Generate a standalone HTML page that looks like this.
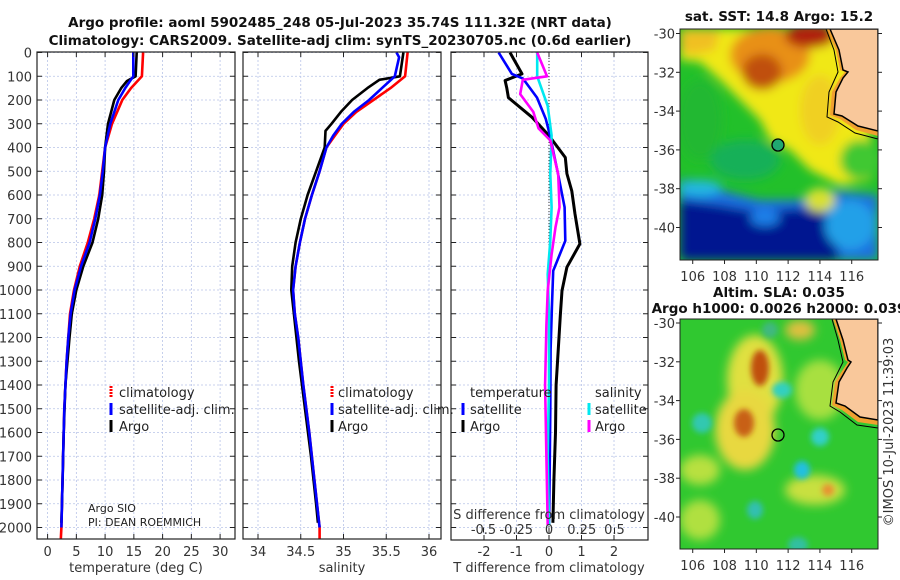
<!DOCTYPE html>
<html><head><meta charset="utf-8">
<style>
html,body{margin:0;padding:0;background:#fff;}
svg{display:block;font-family:"DejaVu Sans","Liberation Sans",sans-serif;}
.tk{font-size:13px;fill:#333;}
.lab{font-size:13px;fill:#333;}
.ttl{font-size:13.5px;font-weight:bold;fill:#111;}
.lg{font-size:13px;fill:#222;}
</style></head><body>
<svg id="fig" width="900" height="580" viewBox="0 0 900 580">
<defs>
<filter id="bl" x="-20%" y="-20%" width="140%" height="140%"><feGaussianBlur stdDeviation="5"/></filter>
<filter id="bl2" x="-20%" y="-20%" width="140%" height="140%"><feGaussianBlur stdDeviation="3"/></filter>
<clipPath id="cm1"><rect x="680" y="29" width="198" height="231"/></clipPath>
<clipPath id="cm2"><rect x="680" y="319" width="198" height="230"/></clipPath>
<clipPath id="cp1"><rect x="37" y="52" width="198" height="487"/></clipPath>
<clipPath id="cp2"><rect x="243" y="52" width="198" height="487"/></clipPath>
<clipPath id="cp3"><rect x="451" y="52" width="197" height="488"/></clipPath>
</defs>
<text class="ttl" x="340" y="27" text-anchor="middle">Argo profile: aoml 5902485_248 05-Jul-2023 35.74S 111.32E (NRT data)</text>
<text class="ttl" x="340" y="45" text-anchor="middle">Climatology: CARS2009. Satellite-adj clim: synTS_20230705.nc (0.6d earlier)</text>

<g id="grids"></g>
<g id="series"></g>
<g id="axes"></g>

<g>
<line x1="111" y1="386" x2="111" y2="398" stroke="#f00" stroke-width="3" stroke-dasharray="2,1"/><text class="lg" x="119" y="397">climatology</text>
<line x1="111" y1="403" x2="111" y2="415" stroke="#00f" stroke-width="3"/><text class="lg" x="119" y="414">satellite-adj. clim.</text>
<line x1="111" y1="420" x2="111" y2="432" stroke="#000" stroke-width="3"/><text class="lg" x="119" y="431">Argo</text>
</g>
<g>
<line x1="332" y1="386" x2="332" y2="398" stroke="#f00" stroke-width="3" stroke-dasharray="2,1"/><text class="lg" x="338" y="397">climatology</text>
<line x1="332" y1="403" x2="332" y2="415" stroke="#00f" stroke-width="3"/><text class="lg" x="338" y="414">satellite-adj. clim.</text>
<line x1="332" y1="420" x2="332" y2="432" stroke="#000" stroke-width="3"/><text class="lg" x="338" y="431">Argo</text>
</g>
<g>
<text class="lg" x="470" y="397">temperature</text>
<line x1="463" y1="403" x2="463" y2="415" stroke="#00f" stroke-width="3"/><text class="lg" x="470" y="414">satellite</text>
<line x1="463" y1="420" x2="463" y2="432" stroke="#000" stroke-width="3"/><text class="lg" x="470" y="431">Argo</text>
<text class="lg" x="595" y="397">salinity</text>
<line x1="589" y1="403" x2="589" y2="415" stroke="#00e8f0" stroke-width="3"/><text class="lg" x="595" y="414">satellite</text>
<line x1="589" y1="420" x2="589" y2="432" stroke="#f0f" stroke-width="3"/><text class="lg" x="595" y="431">Argo</text>
</g>
<text x="88" y="512" style="font-size:11px;fill:#222">Argo SIO</text>
<text x="88" y="526" style="font-size:11px;fill:#222">PI: DEAN ROEMMICH</text>

<text class="ttl" x="779" y="21" text-anchor="middle">sat. SST: 14.8 Argo: 15.2</text>
<g clip-path="url(#cm1)">
<rect x="680" y="29" width="198" height="231" fill="#22c02a"/>
<g filter="url(#bl)">
<path d="M680,29 H870 V180 L840,185 L810,170 L790,150 L770,140 L760,120 L740,100 L720,80 L700,62 L680,60 Z" fill="#f0e818"/>
<path d="M680,29 H720 L715,50 L690,55 L680,50Z" fill="#f0c020"/>
<ellipse cx="770" cy="55" rx="40" ry="28" fill="#e89018"/>
<ellipse cx="762" cy="72" rx="20" ry="18" fill="#c05010"/>
<ellipse cx="810" cy="36" rx="25" ry="12" fill="#b02010"/>
<ellipse cx="820" cy="110" rx="20" ry="35" fill="#f0d020"/>
<path d="M680,180 Q700,178 720,190 L760,200 L800,200 L820,190 L878,195 V260 H680Z" fill="#1a70e0"/>
<path d="M680,200 L720,205 L760,212 L800,208 L830,215 L840,260 H680Z" fill="#041890"/>
<ellipse cx="765" cy="218" rx="15" ry="8" fill="#1a80e8"/>
<ellipse cx="850" cy="225" rx="25" ry="25" fill="#20a0e8"/>
<ellipse cx="820" cy="200" rx="15" ry="12" fill="#d8e030"/>
<ellipse cx="745" cy="160" rx="35" ry="20" fill="#18b058"/>
<ellipse cx="700" cy="120" rx="22" ry="40" fill="#20b830"/>
<ellipse cx="860" cy="160" rx="20" ry="20" fill="#40c830"/>
<ellipse cx="700" cy="188" rx="22" ry="8" fill="#20b8e0"/>
</g>
<path d="M827,29 L836,50 L840,70 L845,72 L840,78 L832,92 L830,115 L840,119 L856,130 L878,136 V29Z" fill="#f0a030"/>
<path d="M830,29 L839,50 L843,70 L848,72 L843,78 L836,92 L834,114 L842,116 L858,126 L878,131 V29Z" fill="#f9c89b" stroke="#000" stroke-width="1.5"/>
<path d="M826,29 L834,50 L838,72 L829,92 L827,117 L838,122 L855,133 L878,139" fill="none" stroke="#000" stroke-width="1"/>
<circle cx="778" cy="145" r="6" fill="#20a870" stroke="#000" stroke-width="1.3"/>
</g>
<rect x="680" y="29" width="198" height="231" fill="none" stroke="#222" stroke-width="1"/>
<g id="map1ax"></g>

<text class="ttl" x="779" y="297" text-anchor="middle">Altim. SLA: 0.035</text>
<text class="ttl" x="779" y="313" text-anchor="middle">Argo h1000: 0.0026 h2000: 0.039</text>
<g clip-path="url(#cm2)">
<rect x="680" y="319" width="198" height="230" fill="#30c830"/>
<g filter="url(#bl)">
<ellipse cx="755" cy="380" rx="28" ry="45" fill="#e0e040"/>
<ellipse cx="745" cy="430" rx="30" ry="40" fill="#e8d840"/>
<ellipse cx="700" cy="470" rx="20" ry="15" fill="#b8e040"/>
<ellipse cx="820" cy="390" rx="25" ry="30" fill="#a8e040"/>
<ellipse cx="815" cy="490" rx="30" ry="15" fill="#c8e040"/>
<ellipse cx="700" cy="520" rx="20" ry="20" fill="#b0e040"/>
<ellipse cx="800" cy="330" rx="15" ry="10" fill="#e0c040"/>
</g>
<g filter="url(#bl2)">
<ellipse cx="760" cy="368" rx="9" ry="18" fill="#c05010"/>
<ellipse cx="744" cy="423" rx="10" ry="14" fill="#c86018"/>
<ellipse cx="828" cy="490" rx="6" ry="6" fill="#e89030"/>
<ellipse cx="702" cy="423" rx="10" ry="10" fill="#30c8b0"/>
<ellipse cx="782" cy="390" rx="10" ry="8" fill="#30d0c0"/>
<ellipse cx="820" cy="437" rx="9" ry="9" fill="#30d0c8"/>
<ellipse cx="802" cy="470" rx="8" ry="9" fill="#20c0e0"/>
<ellipse cx="755" cy="510" rx="8" ry="9" fill="#30c0b0"/>
<ellipse cx="798" cy="545" rx="10" ry="8" fill="#30c0a0"/>
<ellipse cx="770" cy="330" rx="8" ry="8" fill="#40b880"/>
</g>
<path d="M833,319 L840,340 L845,360 L848,362 L844,368 L835,382 L832,405 L842,410 L858,422 L878,425 V319Z" fill="#f0a030"/>
<path d="M836,319 L843,340 L848,360 L851,362 L847,368 L839,382 L836,403 L845,406 L860,417 L878,420 V319Z" fill="#f9c89b" stroke="#000" stroke-width="1.5"/>
<path d="M832,319 L838,340 L843,362 L833,382 L830,406 L840,412 L857,425 L878,428" fill="none" stroke="#000" stroke-width="1"/>
<circle cx="778" cy="435" r="6" fill="none" stroke="#000" stroke-width="1.3"/>
</g>
<rect x="680" y="319" width="198" height="230" fill="none" stroke="#222" stroke-width="1"/>
<g id="map2ax"></g>
<text x="893" y="432" class="tk" text-anchor="middle" transform="rotate(-90 893 432)">©IMOS 10-Jul-2023 11:39:03</text>
</svg>
<script>
const depthTicks=[0,100,200,300,400,500,600,700,800,900,1000,1100,1200,1300,1400,1500,1600,1700,1800,1900,2000];
const tempTicks=[0,5,10,15,20,25,30];
const salTicks=[34,34.5,35,35.5,36];
const dtTicks=[-2,-1,0,1,2];
const dsTicks=[-0.5,-0.25,0,0.25,0.5];
const dsTickLabels=["-0.5","-0.25","0","0.25","0.5"];
const lonTicks=[106,108,110,112,114,116];
const latTicks=[-30,-32,-34,-36,-38,-40];

const climTempDepth=[0,100,150,200,300,400,500,600,700,800,900,1000,1100,1200,1300,1500,1700,2000,2050];
const climTemp=[16.6,16.4,14.5,13.0,11.2,10.0,9.5,9.0,8.1,7.0,5.6,4.6,3.9,3.6,3.3,2.9,2.7,2.4,2.3];
const satTempDepth=[0,100,150,200,300,400,500,600,700,800,900,1000,1100,1200,1300,1500,1700,2000];
const satTemp=[14.9,14.9,13.5,12.3,10.9,10.0,9.6,9.1,8.3,7.3,5.8,4.7,4.0,3.6,3.3,2.9,2.7,2.4];
const argoTempDepth=[0,100,120,150,200,300,400,500,600,700,800,900,1000,1100,1200,1400,1600,1800,1980];
const argoTemp=[15.5,15.3,13.8,12.8,11.6,10.5,10.0,9.8,9.5,8.8,7.8,6.2,5.0,4.2,3.8,3.1,2.8,2.6,2.4];

const climSalDepth=[0,100,150,200,250,300,350,400,500,600,700,800,900,1000,1100,1200,1400,1600,1800,2000,2050];
const climSal=[35.75,35.72,35.55,35.35,35.15,35.0,34.9,34.8,34.72,34.63,34.55,34.49,34.44,34.41,34.43,34.47,34.53,34.6,34.66,34.72,34.72];
const satSalDepth=[0,20,100,150,200,250,300,350,400,500,600,700,800,900,1000,1100,1200,1400,1600,1800,2000];
const satSal=[35.62,35.65,35.6,35.45,35.3,35.12,34.98,34.88,34.8,34.72,34.63,34.55,34.49,34.44,34.41,34.43,34.47,34.53,34.6,34.66,34.72];
const argoSalDepth=[0,100,115,150,200,250,300,330,400,500,600,700,800,900,1000,1100,1300,1500,1700,1900,1980];
const argoSal=[35.7,35.66,35.42,35.28,35.1,34.97,34.86,34.79,34.78,34.68,34.58,34.5,34.44,34.4,34.39,34.42,34.48,34.55,34.62,34.68,34.7];

const argoDTDepth=[0,90,118,150,190,230,273,350,442,510,583,680,806,904,1003,1101,1213,1400,1600,1800,1980];
const argoDT=[-1.2,-0.83,-1.35,-1.3,-1.25,-0.9,-0.52,0.0,0.5,0.55,0.7,0.8,0.95,0.55,0.4,0.35,0.3,0.22,0.2,0.15,0.12];
const satDTDepth=[0,90,110,190,280,350,512,652,793,919,1073,1250,1500,1800,1990];
const satDT=[-1.55,-1.14,-0.8,-0.37,-0.1,0.03,0.28,0.48,0.5,0.13,0.09,0.05,0.04,0.02,0.0];
const argoDSDepth=[0,100,115,175,250,319,370,512,652,736,850,1003,1150,1400,1700,1990];
const argoDS=[-0.09,-0.015,-0.2,-0.22,-0.12,-0.08,0.01,0.07,0.08,0.05,0.02,-0.01,-0.02,-0.03,-0.02,-0.01];
const satDSDepth=[0,100,225,350,512,652,793,933,1100,1400,1700,1990];
const satDS=[-0.09,-0.09,-0.01,0.02,0.01,0.02,0.01,-0.01,0.0,0.0,-0.01,0.0];

const NS='http://www.w3.org/2000/svg';
const Y0=52.5, YS=0.2375;
const yD=d=>Y0+d*YS;
const xT=t=>47.6+t*5.75;
const xS=s=>258+(s-34)*85.5;
const xDT=t=>549+t*32.5;
const xDS=s=>549+s*131;
const panels=[{x:37,w:198,b:539},{x:243,w:198,b:539},{x:451,w:197,b:540}];
function mk(tag,attrs,parent){const e=document.createElementNS(NS,tag);for(const k in attrs)e.setAttribute(k,attrs[k]);parent.appendChild(e);return e;}
const G=document.getElementById('grids'),A=document.getElementById('axes'),S=document.getElementById('series');

panels.forEach((p,i)=>{
  depthTicks.forEach(d=>{
    const l=mk('line',{x1:p.x,x2:p.x+p.w,y1:yD(d),y2:yD(d),stroke:'#b8c4e8','stroke-width':0.8,'stroke-dasharray':'2,2'},G);
    
    
    const t1=mk('line',{x1:p.x,x2:p.x+5,y1:yD(d),y2:yD(d),stroke:'#222'},A);
    
    
    const t2=mk('line',{x1:p.x+p.w-5,x2:p.x+p.w,y1:yD(d),y2:yD(d),stroke:'#222'},A);
    
    
  });
  const r=mk('rect',{x:p.x,y:52,width:p.w,height:p.b-52,fill:'none',stroke:'#222','stroke-width':1.2},A);
  
  
});
depthTicks.forEach(d=>{
  const t=mk('text',{x:32,y:yD(d)+5,'text-anchor':'end','class':'tk'},A);
  t.textContent=d;
  
  
});
function xaxis(ticks,fx,p,labels,ly,name){
  ticks.forEach((v,i)=>{
    const x=fx(v);
    const g=mk('line',{x1:x,x2:x,y1:52,y2:p.b,stroke:'#b8c4e8','stroke-width':0.8,'stroke-dasharray':'2,2'},G);
    
    
    const t1=mk('line',{x1:x,x2:x,y1:p.b-5,y2:p.b,stroke:'#222'},A);
    
    
    const t2=mk('line',{x1:x,x2:x,y1:52,y2:57,stroke:'#222'},A);
    
    
    const t=mk('text',{x:x,y:ly,'text-anchor':'middle','class':'tk'},A);
    t.textContent=labels?labels[i]:v;
    
    
  });
}
xaxis(tempTicks,xT,panels[0],null,556,'temperature');
xaxis(salTicks,xS,panels[1],null,556,'salinity');
xaxis(dtTicks,xDT,panels[2],null,556,'t-difference');
dsTicks.forEach((v,i)=>{
  const x=xDS(v);
  const t1=mk('line',{x1:x,x2:x,y1:yD(2000),y2:yD(2000)+5,stroke:'#222'},A);
  
  
  const t=mk('text',{x:x,y:534,'text-anchor':'middle','class':'tk'},A);
  t.textContent=dsTickLabels[i];
  
  
});
[[136,'temperature (deg C)','temperature-axis-title'],[342,'salinity','salinity-axis-title'],[549,'T difference from climatology','t-difference-axis-title']].forEach(a=>{
  const t=mk('text',{x:a[0],y:572,'text-anchor':'middle','class':'lab'},A);
  t.textContent=a[1];
  
  
});
const sdt=mk('text',{x:549,y:519,'text-anchor':'middle','class':'lab'},A);
sdt.textContent='S difference from climatology';


const zl=mk('line',{x1:xDT(0),x2:xDT(0),y1:52,y2:540,stroke:'#333','stroke-width':1,'stroke-dasharray':'1,2'},G);



function series(depths,vals,fx,color,clip,name,w){
  const pts=depths.map((d,i)=>fx(vals[i]).toFixed(1)+','+yD(d).toFixed(1)).join(' ');
  const pl=mk('polyline',{points:pts,fill:'none',stroke:color,'stroke-width':w||2.6,'stroke-linejoin':'round','clip-path':'url(#'+clip+')'},S);
  
  
}
series(climTempDepth,climTemp,xT,'#f00','cp1','temp-climatology-line');
series(argoTempDepth,argoTemp,xT,'#000','cp1','temp-argo-line');
series(satTempDepth,satTemp,xT,'#00f','cp1','temp-satellite-line');
series(climSalDepth,climSal,xS,'#f00','cp2','sal-climatology-line');
series(argoSalDepth,argoSal,xS,'#000','cp2','sal-argo-line');
series(satSalDepth,satSal,xS,'#00f','cp2','sal-satellite-line');
series(argoDTDepth,argoDT,xDT,'#000','cp3','dt-argo-line',3);
series(satDTDepth,satDT,xDT,'#00f','cp3','dt-satellite-line');
series(satDSDepth,satDS,xDS,'#00e8f0','cp3','ds-satellite-line');
series(argoDSDepth,argoDS,xDS,'#f0f','cp3','ds-argo-line');

const lonX=l=>680+(l-105.2)*15.9;
function mapAxes(id,top,bot,lat30y){
  const g=document.getElementById(id);
  lonTicks.forEach(l=>{
    const x=lonX(l);
    const tk=mk('line',{x1:x,x2:x,y1:bot,y2:bot+4,stroke:'#222'},g);
    
    
    const t=mk('text',{x:x,y:bot+21,'text-anchor':'middle','class':'tk'},g);
    t.textContent=l;
    
    
  });
  latTicks.forEach(la=>{
    const y=lat30y+(-30-la)*19.4;
    const tk=mk('line',{x1:676,x2:680,y1:y,y2:y,stroke:'#222'},g);
    
    
    const tk2=mk('line',{x1:878,x2:882,y1:y,y2:y,stroke:'#222'},g);
    
    
    const t=mk('text',{x:675,y:y+5,'text-anchor':'end','class':'tk'},g);
    t.textContent=la;
    
    
  });
}
mapAxes('map1ax',29,260,33.5);
mapAxes('map2ax',319,549,323);
</script>
</body></html>
